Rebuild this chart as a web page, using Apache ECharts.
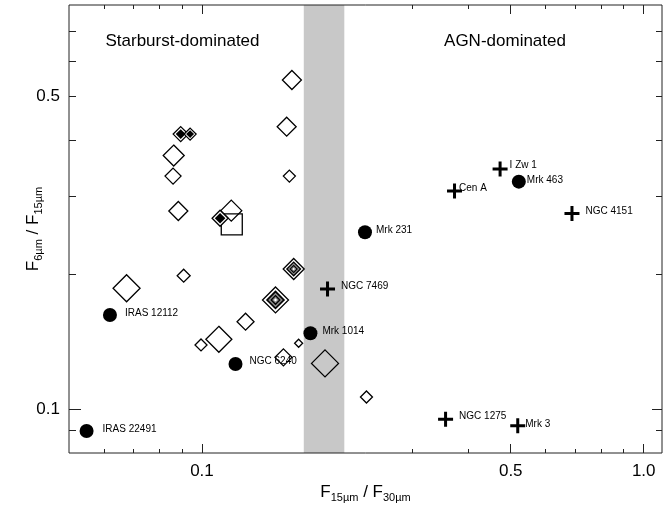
<!DOCTYPE html>
<html><head><meta charset="utf-8">
<script src="https://cdn.jsdelivr.net/npm/echarts@6/dist/echarts.min.js"></script>
<style>html,body{margin:0;padding:0;background:#fff}#c{width:663px;height:506px}</style>
</head><body><div id="c"></div>
<script>
// ---------------- data ----------------
const xRange = [0.05, 1.1];
const yRange = [0.08, 0.8];
const bandRange = [0.17, 0.21];

// filled circles (labelled)
const circleNames = ['IRAS 22491', 'IRAS 12112', 'NGC 6240', 'Mrk 1014', 'Mrk 231', 'Mrk 463'];
const circleX = [0.0548, 0.0619, 0.1191, 0.176, 0.2339, 0.5215];
const circleY = [0.0896, 0.1626, 0.1264, 0.148, 0.2487, 0.3227];

// plus signs (labelled)
const plusNames = ['NGC 7469', 'Cen A', 'I Zw 1', 'NGC 4151', 'NGC 1275', 'Mrk 3'];
const plusX = [0.1924, 0.373, 0.473, 0.688, 0.356, 0.5186];
const plusY = [0.1858, 0.3075, 0.3444, 0.274, 0.0951, 0.092];

// open diamonds (size = third quantity shown by marker size)
const diamondX = [0.1598, 0.1555, 0.1577, 0.0863, 0.086, 0.0884, 0.1165, 0.0675, 0.0909, 0.0995, 0.1255, 0.1092, 0.1529, 0.1655, 0.1899, 0.2357];
const diamondY = [0.544, 0.428, 0.332, 0.369, 0.332, 0.2775, 0.278, 0.1866, 0.199, 0.1394, 0.1571, 0.1435, 0.1308, 0.1406, 0.1268, 0.1067];
const diamondSize = [19, 19, 12, 21, 16, 19, 21, 27, 13, 12, 17, 26, 17, 8, 27, 12];

// filled (nested) diamonds
const filledX = [0.0895, 0.094, 0.1099];
const filledY = [0.412, 0.412, 0.2674];
const filledSize = [15, 12, 16];

// concentric diamonds
const concX = [0.1613, 0.1467];
const concY = [0.206, 0.1757];
const concSize = [21, 26];

// open square
const squareX = [0.1168];
const squareY = [0.2592];
const squareSize = [21];

// axis ticks
const xMinorTicks = [0.06, 0.07, 0.08, 0.09, 0.2, 0.3, 0.4, 0.6, 0.7, 0.8, 0.9];
const xMajorTicks = [0.1, 0.5, 1.0];
const xTickLabels = ['0.1', '0.5', '1.0'];
const yMinorTicks = [0.09, 0.2, 0.3, 0.4, 0.5, 0.6, 0.7];
const yMajorTicks = [0.1];
const yLabelValues = [0.1, 0.5];
const yTickLabels = ['0.1', '0.5'];

// ---------------- styling ----------------
const FONT = "'Liberation Sans', Arial, Helvetica, sans-serif";
const INK = '#000';
const L = Math.log10;

// label nudges [dx, dy] (style only)
const labelNudge = {
  'IRAS 22491': [9, -2], 'IRAS 12112': [8, -2], 'NGC 6240': [7, -2.5], 'Mrk 1014': [5, -2],
  'Mrk 231': [4, -2], 'Mrk 463': [1, -1.5],
  'NGC 7469': [6, -3], 'Cen A': [-3, -2.5], 'I Zw 1': [2, -3.5], 'NGC 4151': [6, -2.5],
  'NGC 1275': [6, -3.5], 'Mrk 3': [0, -2]
};

function labelled(names, xs, ys) {
  return names.map((n, i) => ({
    name: n, value: [xs[i], ys[i]],
    label: { offset: labelNudge[n] || [0, 0] }
  }));
}
function triples(xs, ys, ss) { return xs.map((x, i) => [x, ys[i], ss[i]]); }

function tickAxis(dim, pos, range, ticks, len, labelVals, labelTexts, extra) {
  const ax = {
    type: 'value', gridIndex: 0, position: pos,
    min: L(range[0]), max: L(range[1]),
    axisLine: { show: false, onZero: false },
    axisTick: { show: true, inside: true, length: len, customValues: ticks.map(L),
      lineStyle: { color: '#222', width: 1 } },
    axisLabel: { show: false },
    splitLine: { show: false },
    axisPointer: { show: false },
    nameMoveOverlap: false
  };
  if (labelVals) {
    ax.axisLabel = {
      show: true, customValues: labelVals.map(L),
      formatter: v => {
        const i = labelVals.findIndex(t => Math.abs(L(t) - v) < 1e-6);
        return i >= 0 ? labelTexts[i] : '';
      },
      color: INK, fontSize: 17, fontFamily: FONT,
      margin: dim === 'x' ? 10 : 9
    };
  }
  return Object.assign(ax, extra || {});
}

const nameRich = {
  b: { fontSize: 17, fontFamily: FONT, color: INK, lineHeight: 22 },
  s: { fontSize: 11, fontFamily: FONT, color: INK, lineHeight: 11, verticalAlign: 'bottom' }
};

const xAxes = [
  { type: 'log', logBase: 10, min: xRange[0], max: xRange[1], show: false, gridIndex: 0,
    axisLine: { onZero: false }, splitLine: { show: false } },
  tickAxis('x', 'bottom', xRange, xMinorTicks, 4),
  tickAxis('x', 'bottom', xRange, xMajorTicks, 9, xMajorTicks, xTickLabels, {
    name: '{b|F}{s|15µm}{b| / F}{s|30µm}', nameLocation: 'middle', nameGap: 28,
    nameTextStyle: { rich: nameRich }
  }),
  tickAxis('x', 'top', xRange, xMinorTicks, 4),
  tickAxis('x', 'top', xRange, xMajorTicks, 9)
];
const yAxes = [
  { type: 'log', logBase: 10, min: yRange[0], max: yRange[1], show: false, gridIndex: 0,
    axisLine: { onZero: false }, splitLine: { show: false } },
  tickAxis('y', 'left', yRange, yMinorTicks, 7),
  tickAxis('y', 'left', yRange, yMajorTicks, 12, yLabelValues, yTickLabels, {
    name: '{b|F}{s|6µm}{b| / F}{s|15µm}', nameLocation: 'middle', nameGap: 25,
    nameTextStyle: { rich: nameRich }
  }),
  tickAxis('y', 'right', yRange, yMinorTicks, 6),
  tickAxis('y', 'right', yRange, yMajorTicks, 10)
];

const outline = { color: 'rgba(0,0,0,0)', borderColor: INK, borderWidth: 1.3, opacity: 1 };
const PLUS = 'path://M6,0 H9 V6 H15 V9 H9 V15 H6 V9 H0 V6 H6 Z';
const labelStyle = { show: true, position: 'right', distance: 0, formatter: p => p.name,
  fontSize: 10, fontFamily: FONT, color: INK };

function layer(data, factor, style, z) {
  return { type: 'scatter', xAxisIndex: 0, yAxisIndex: 0, symbol: 'diamond', data: data,
    symbolSize: v => v[2] * factor, itemStyle: Object.assign({ opacity: 1 }, style), z: z, silent: true, animation: false };
}

const filledData = triples(filledX, filledY, filledSize);
const concData = triples(concX, concY, concSize);

const series = [
  { type: 'scatter', xAxisIndex: 0, yAxisIndex: 0, data: [], z: 0, silent: true,
    markArea: { silent: true, itemStyle: { color: '#c8c8c8', opacity: 1 },
      data: [[{ xAxis: bandRange[0] }, { xAxis: bandRange[1] }]] } },
  layer(triples(diamondX, diamondY, diamondSize), 1, outline, 3),
  { type: 'scatter', xAxisIndex: 0, yAxisIndex: 0, symbol: 'rect',
    data: triples(squareX, squareY, squareSize), symbolSize: v => v[2], itemStyle: outline, z: 3, silent: true },
  layer(filledData, 1, { color: '#fff', borderColor: INK, borderWidth: 1.3 }, 4),
  layer(filledData, 0.66, { color: INK }, 5),
  layer(concData, 1, { color: '#fff', borderColor: INK, borderWidth: 1.3 }, 4),
  layer(concData, 0.74, { color: INK }, 5),
  layer(concData, 0.56, { color: '#8a8a8a' }, 6),
  layer(concData, 0.40, { color: INK }, 7),
  layer(concData, 0.26, { color: '#8a8a8a' }, 8),
  layer(concData, 0.12, { color: '#fff' }, 9),
  { type: 'scatter', xAxisIndex: 0, yAxisIndex: 0, symbol: 'circle', symbolSize: 14,
    data: labelled(circleNames, circleX, circleY), itemStyle: { color: INK, opacity: 1 }, label: labelStyle, z: 10, silent: true },
  { type: 'scatter', xAxisIndex: 0, yAxisIndex: 0, symbol: PLUS, symbolSize: 15,
    data: labelled(plusNames, plusX, plusY), itemStyle: { color: INK, opacity: 1 }, label: labelStyle, z: 10, silent: true }
];

const chart = echarts.init(document.getElementById('c'), null, { renderer: 'canvas' });
chart.setOption({
  animation: false,
  backgroundColor: '#fff',
  grid: { left: 69, right: 1, top: 5, bottom: 53, show: true, borderColor: '#222', borderWidth: 1,
    backgroundColor: 'rgba(0,0,0,0)', z: 20, containLabel: false, outerBoundsMode: 'none' },
  xAxis: xAxes,
  yAxis: yAxes,
  graphic: [
    { type: 'text', x: 182.5, y: 41, z: 30,
      style: { text: 'Starburst-dominated', fontSize: 17, fontFamily: FONT, fill: INK, align: 'center', verticalAlign: 'middle' } },
    { type: 'text', x: 505, y: 41, z: 30,
      style: { text: 'AGN-dominated', fontSize: 17, fontFamily: FONT, fill: INK, align: 'center', verticalAlign: 'middle' } }
  ],
  series: series
});
</script>
</body></html>
